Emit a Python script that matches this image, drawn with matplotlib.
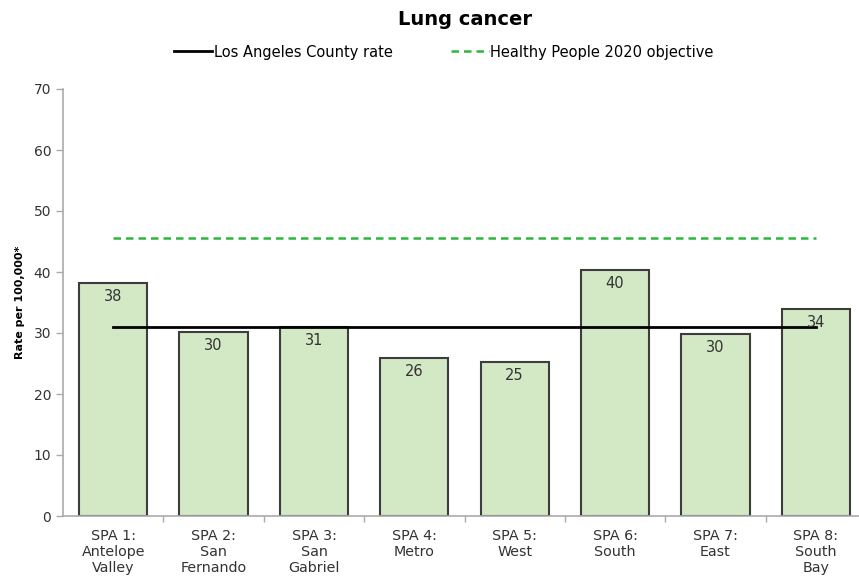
import matplotlib

matplotlib.use("Agg")
import matplotlib.pyplot as plt  # noqa: E402
import numpy as np  # noqa: E402
from matplotlib.lines import Line2D  # noqa: E402

spa_labels = ["SPA 1:\nAntelope\nValley", "SPA 2:\nSan\nFernando", "SPA 3:\nSan\nGabriel",
              "SPA 4:\nMetro", "SPA 5:\nWest", "SPA 6:\nSouth", "SPA 7:\nEast",
              "SPA 8:\nSouth\nBay"]
rates = [38.2, 30.1, 31.0, 25.9, 25.2, 40.4, 29.8, 33.9]
rate_labels = ["38", "30", "31", "26", "25", "40", "30", "34"]
county_rate = 31.0
hp2020_objective = 45.5

fig = plt.figure(figsize=(8.59, 5.77), dpi=100)
ax = fig.add_axes([63 / 859, 1 - 516 / 577, 803 / 859, 427 / 577])

x = np.arange(len(rates))
ax.bar(x, rates, width=0.68, color="#d3e8c5", edgecolor="#3d3d3d", linewidth=1.5, zorder=2)
for xi, v, lbl in zip(x, rates, rate_labels):
    ax.text(xi, v - 1.0, lbl, ha="center", va="top", fontsize=10.5, color="#333333", zorder=4)

ax.plot([x[0], x[-1]], [county_rate, county_rate], color="black", lw=2, zorder=3)
ax.plot([x[0], x[-1]], [hp2020_objective, hp2020_objective], color="#2db83d", lw=1.8,
        ls=(0, (3, 2)), zorder=3)

ax.set_xlim(-0.5, len(rates) - 0.5)
ax.set_ylim(0, 70)
ax.set_yticks(range(0, 71, 10))
ax.set_xticks(x)
ax.set_xticklabels(spa_labels, fontsize=10.3, color="#333333", linespacing=1.22)
ax.set_xticks(np.arange(0.5, len(rates) - 0.5, 1), minor=True)
ax.tick_params(axis="x", which="major", length=0, pad=9)
ax.tick_params(axis="x", which="minor", length=4, color="#aaaaaa", width=1)
ax.tick_params(axis="y", labelsize=10, colors="#333333", length=5, width=1)
ax.tick_params(axis="y", color="#aaaaaa")
for side in ("top", "right"):
    ax.spines[side].set_visible(False)
for side in ("left", "bottom"):
    ax.spines[side].set_color("#aaaaaa")
    ax.spines[side].set_linewidth(1.2)

ax.set_ylabel("Rate per 100,000*", fontsize=8, fontweight="bold", labelpad=6)
ax.set_title("Lung cancer", fontsize=14, fontweight="bold", pad=46)

handles = [Line2D([], [], color="black", lw=2),
           Line2D([], [], color="#2db83d", lw=1.8, ls=(0, (3, 2)))]
fig.legend(handles, ["Los Angeles County rate", "Healthy People 2020 objective"],
           loc="center", bbox_to_anchor=(444 / 859, 1 - 52 / 577), ncol=2, frameon=False,
           fontsize=10.5, handlelength=2.6, handletextpad=0.1, columnspacing=4.0)

fig.savefig("out.png", dpi=100)
